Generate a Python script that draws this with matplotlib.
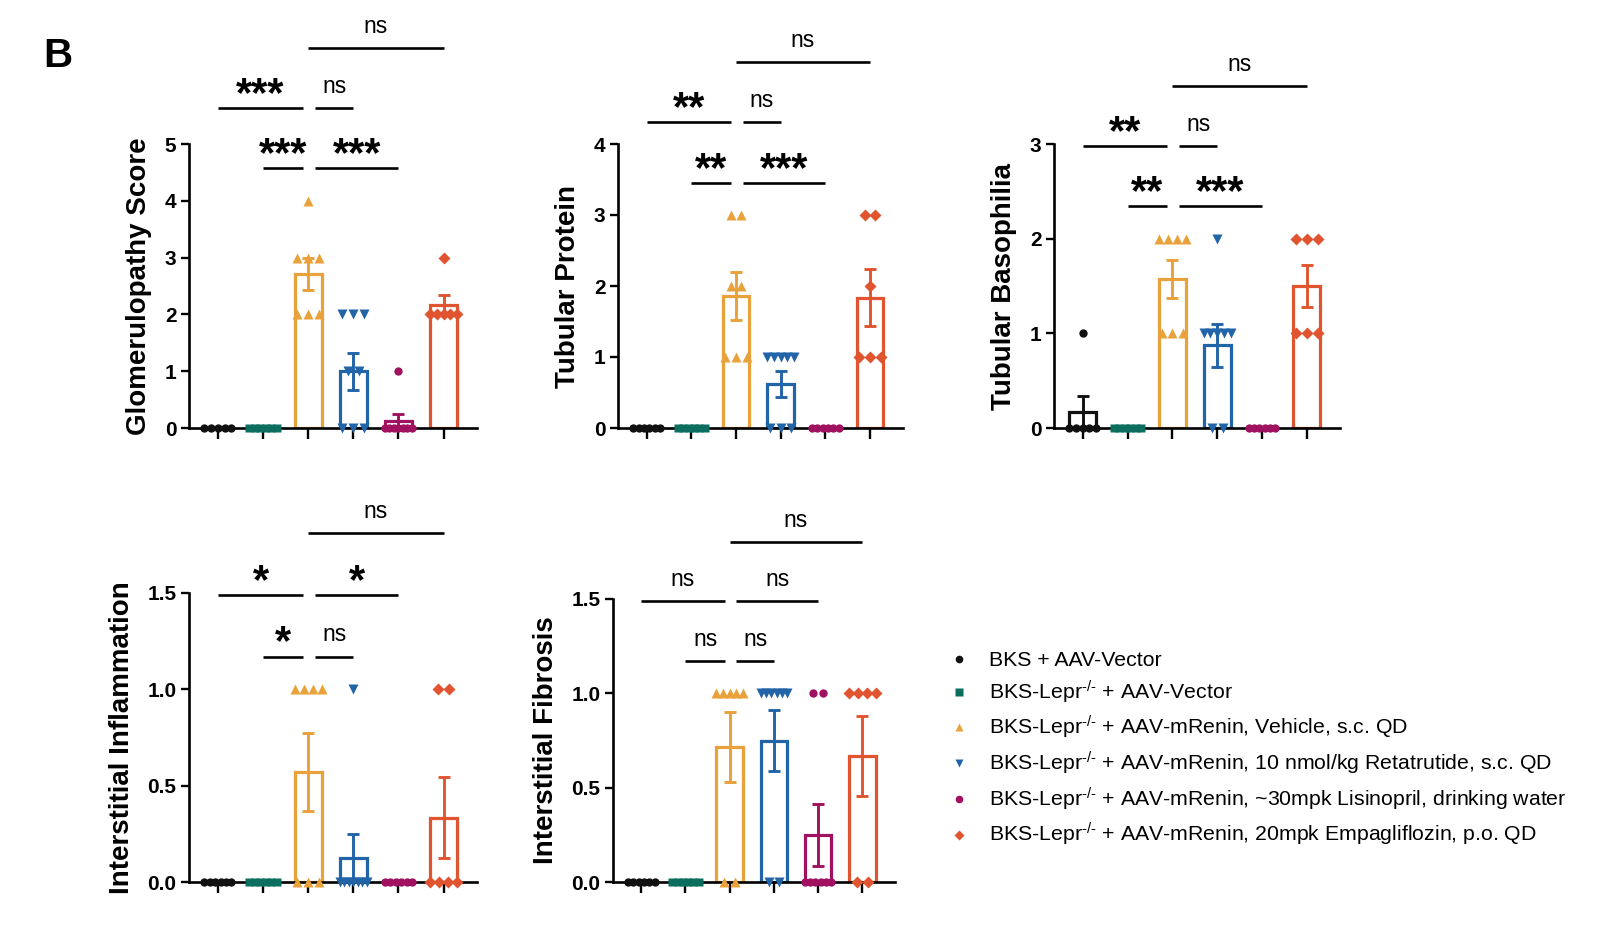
#!/usr/bin/env python3

# kidney histology scores, panel B

import numpy as np
import matplotlib.pyplot as plt
from matplotlib.lines import Line2D

plt.rcParams['font.family'] = ['Liberation Sans', 'DejaVu Sans']
plt.rcParams['mathtext.fontset'] = 'custom'
plt.rcParams['mathtext.rm'] = 'Liberation Sans'
plt.rcParams['mathtext.it'] = 'Liberation Sans:italic'
plt.rcParams['mathtext.bf'] = 'Liberation Sans:bold'


# groups

groups = [
    "BKS + AAV-Vector",
    "BKS-Lepr$^{\\text{-/-}}$ + AAV-Vector",
    "BKS-Lepr$^{\\text{-/-}}$ + AAV-mRenin, Vehicle, s.c. QD",
    "BKS-Lepr$^{\\text{-/-}}$ + AAV-mRenin, 10 nmol/kg Retatrutide, s.c. QD",
    "BKS-Lepr$^{\\text{-/-}}$ + AAV-mRenin, ~30mpk Lisinopril, drinking water",
    "BKS-Lepr$^{\\text{-/-}}$ + AAV-mRenin, 20mpk Empagliflozin, p.o. QD",
]
colors = ["#111111", "#0b6e5f", "#e9a23b", "#2264a8", "#a0125f", "#e05530"]
markers = ["o", "s", "^", "v", "o", "D"]
msizes = [6, 5.8, 7.5, 7.5, 6, 5.8]


# individual scores per animal, one list per group

glomerulopathy = [
    [0, 0, 0, 0, 0],
    [0, 0, 0, 0, 0, 0],
    [4, 3, 3, 3, 2, 2, 2],
    [2, 2, 2, 1, 1, 0, 0, 0],
    [1, 0, 0, 0, 0, 0, 0, 0],
    [3, 2, 2, 2, 2, 2],
]
tubular_protein = [
    [0, 0, 0, 0, 0, 0],
    [0, 0, 0, 0, 0, 0],
    [3, 3, 2, 2, 1, 1, 1],
    [1, 1, 1, 1, 1, 0, 0, 0],
    [0, 0, 0, 0, 0, 0],
    [3, 3, 2, 1, 1, 1],
]
tubular_basophilia = [
    [1, 0, 0, 0, 0, 0],
    [0, 0, 0, 0, 0, 0],
    [2, 2, 2, 2, 1, 1, 1],
    [2, 1, 1, 1, 1, 1, 0, 0],
    [0, 0, 0, 0, 0, 0],
    [2, 2, 2, 1, 1, 1],
]
interstitial_inflammation = [
    [0, 0, 0, 0, 0, 0],
    [0, 0, 0, 0, 0, 0],
    [1, 1, 1, 1, 0, 0, 0],
    [1, 0, 0, 0, 0, 0, 0, 0],
    [0, 0, 0, 0, 0, 0],
    [1, 1, 0, 0, 0, 0],
]
interstitial_fibrosis = [
    [0, 0, 0, 0, 0, 0],
    [0, 0, 0, 0, 0, 0],
    [1, 1, 1, 1, 1, 0, 0],
    [1, 1, 1, 1, 1, 1, 0, 0],
    [1, 1, 0, 0, 0, 0, 0, 0],
    [1, 1, 1, 1, 0, 0],
]


# comparisons: (group a, group b, label, row)

sig_glom = [(1, 2, "***", 0), (2, 4, "***", 0), (0, 2, "***", 1), (2, 3, "ns", 1), (2, 5, "ns", 2)]
sig_prot = [(1, 2, "**", 0), (2, 4, "***", 0), (0, 2, "**", 1), (2, 3, "ns", 1), (2, 5, "ns", 2)]
sig_baso = [(1, 2, "**", 0), (2, 4, "***", 0), (0, 2, "**", 1), (2, 3, "ns", 1), (2, 5, "ns", 2)]
sig_infl = [(1, 2, "*", 0), (2, 3, "ns", 0), (0, 2, "*", 1), (2, 4, "*", 1), (2, 5, "ns", 2)]
sig_fibr = [(1, 2, "ns", 0), (2, 3, "ns", 0), (0, 2, "ns", 1), (2, 4, "ns", 1), (2, 5, "ns", 2)]


# spread points with the same value side by side

def Swarm(vals):

    vals = np.asarray(vals, float)
    off = np.zeros(len(vals))
    for v in np.unique(vals):
        idx = np.where(vals == v)[0]
        k = len(idx)
        step = min(0.24, 0.6 / max(k - 1, 1))
        off[idx] = (np.arange(k) - (k - 1) / 2) * step
    return off


def DrawPanel(ax, data, ylabel, ymax, yticks, yticklabels, sigs, rows):

    x = np.arange(len(data))
    for i, d in enumerate(data):
        d = np.asarray(d, float)
        mean = d.mean()
        sem = d.std(ddof=1) / np.sqrt(len(d))
        ax.bar(i, mean, width=0.6, facecolor='none', edgecolor=colors[i], linewidth=2.3, zorder=2)
        if sem > 0:
            ax.errorbar(i, mean, yerr=sem, color=colors[i], capsize=4.5, elinewidth=2.1, capthick=2.1, zorder=3)
        ax.plot(i + Swarm(d), d, linestyle='none', marker=markers[i], ms=msizes[i],
                color=colors[i], mec='none', clip_on=False, zorder=4)

    ax.set_xlim(-0.64, 5.74)
    ax.set_ylim(0, ymax)
    ax.set_xticks(x)
    ax.set_xticklabels([])
    ax.set_yticks(yticks)
    ax.set_yticklabels(yticklabels, fontweight='bold')
    ax.tick_params(axis='y', length=6, width=1.7, labelsize=15, pad=3)
    ax.tick_params(axis='x', length=8, width=1.7)
    ax.set_ylabel(ylabel, fontsize=20, fontweight='bold', labelpad=9)
    for side in ['top', 'right']:
        ax.spines[side].set_visible(False)
    for side in ['left', 'bottom']:
        ax.spines[side].set_linewidth(1.9)

    # significance brackets
    for a, b, label, row in sigs:
        y = rows[row]
        shared = [s for s in sigs if s[3] == row and s != (a, b, label, row)]
        xa, xb = a, b
        if any(s[1] == a for s in shared):
            xa = a + 0.15
        if any(s[0] == b for s in shared):
            xb = b - 0.11
        ax.plot([xa, xb], [y, y], color='black', lw=1.9, clip_on=False, solid_capstyle='butt')
        if label == "ns":
            ax.annotate(label, xy=((xa + xb) / 2, y), xytext=(0, 11), textcoords='offset points',
                        ha='center', va='baseline', fontsize=16.5, annotation_clip=False)
        else:
            ax.annotate(label, xy=((xa + xb) / 2, y), xytext=(0, 1.5), textcoords='offset points',
                        ha='center', va='baseline', fontsize=30, fontweight='bold', annotation_clip=False)


W, H = 1624, 934
fig = plt.figure(figsize=(W / 100, H / 100), dpi=100)


def Box(left, right, bottom, top):

    return [left / W, 1 - bottom / H, (right - left) / W, (bottom - top) / H]


ax1 = fig.add_axes(Box(189, 477, 428, 144))
ax2 = fig.add_axes(Box(618, 903, 428, 144))
ax3 = fig.add_axes(Box(1054, 1340, 428, 144))
ax4 = fig.add_axes(Box(189, 477, 882, 593))
ax5 = fig.add_axes(Box(613, 895, 882, 599))

half_ticks = [0, 0.5, 1.0, 1.5]
half_labels = ["0.0", "0.5", "1.0", "1.5"]

DrawPanel(ax1, glomerulopathy, "Glomerulopathy Score", 5, range(6), [str(v) for v in range(6)],
          sig_glom, [4.58, 5.63, 6.69])
DrawPanel(ax2, tubular_protein, "Tubular Protein", 4, range(5), [str(v) for v in range(5)],
          sig_prot, [3.45, 4.31, 5.15])
DrawPanel(ax3, tubular_basophilia, "Tubular Basophilia", 3, range(4), [str(v) for v in range(4)],
          sig_baso, [2.34, 2.98, 3.61])
DrawPanel(ax4, interstitial_inflammation, "Interstitial Inflammation", 1.5, half_ticks, half_labels,
          sig_infl, [1.17, 1.49, 1.81])
DrawPanel(ax5, interstitial_fibrosis, "Interstitial Fibrosis", 1.5, half_ticks, half_labels,
          sig_fibr, [1.17, 1.49, 1.80])


# legend

handles = [Line2D([], [], linestyle='none', marker=markers[i], color=colors[i], mec='none', ms=5.5)
           for i in range(len(groups))]
fig.legend(handles, groups, loc='upper left', bbox_to_anchor=(951 / W, 1 - 651 / H),
           frameon=False, fontsize=15.3, handlelength=0.75, handletextpad=1.05,
           labelspacing=0.4, borderpad=0, borderaxespad=0)

fig.text(43 / W, 1 - 67 / H, "B", fontsize=29, fontweight='bold', ha='left', va='baseline')

plt.savefig("out.png", dpi=100)
